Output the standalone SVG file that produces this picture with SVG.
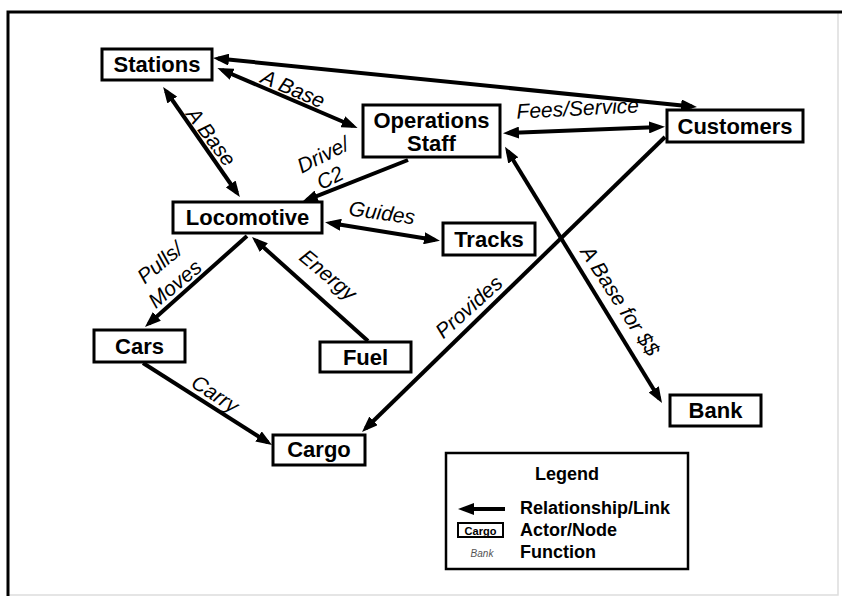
<svg xmlns="http://www.w3.org/2000/svg" width="842" height="596" viewBox="0 0 842 596">
<style>
.box{fill:#fff;stroke:#000;stroke-width:3}
.n{font-family:"Liberation Sans",Arial,sans-serif;font-weight:bold;font-size:22px;text-anchor:middle;fill:#000}
.e{font-family:"Liberation Sans",Arial,sans-serif;font-style:italic;font-size:21px;text-anchor:middle;fill:#000}
.lk{stroke:#000;stroke-width:4;fill:none}
.lg{font-family:"Liberation Sans",Arial,sans-serif;font-weight:bold;font-size:18px;fill:#000}
</style>
<defs>
<marker id="ah" viewBox="0 0 16 12" refX="11" refY="6" markerWidth="16" markerHeight="12" markerUnits="userSpaceOnUse" orient="auto-start-reverse"><path d="M0,0 L16,6 L0,12 z" fill="#000"/></marker>
</defs>
<rect width="842" height="596" fill="#fff"/>
<path d="M838,12 V595 H8" fill="none" stroke="#ddd" stroke-width="1.5"/>
<path d="M8,596 V12 H842" fill="none" stroke="#000" stroke-width="3"/>

<g id="connectors">
<line class="lk" x1="218" y1="58.5" x2="692" y2="106.5" marker-start="url(#ah)" marker-end="url(#ah)"/>
<line class="lk" x1="222" y1="70" x2="353" y2="126" marker-start="url(#ah)" marker-end="url(#ah)"/>
<line class="lk" x1="166" y1="91" x2="237" y2="193" marker-start="url(#ah)" marker-end="url(#ah)"/>
<line class="lk" x1="408" y1="160" x2="306.6" y2="200.2" marker-end="url(#ah)"/>
<line class="lk" x1="508" y1="133" x2="660" y2="127" marker-start="url(#ah)" marker-end="url(#ah)"/>
<line class="lk" x1="665" y1="137" x2="365.6" y2="428.5" marker-end="url(#ah)"/>
<line class="lk" x1="507.6" y1="151" x2="659.4" y2="398.7" marker-start="url(#ah)" marker-end="url(#ah)"/>
<line class="lk" x1="330" y1="223" x2="435" y2="240" marker-start="url(#ah)" marker-end="url(#ah)"/>
<line class="lk" x1="247" y1="236" x2="148.7" y2="323.7" marker-end="url(#ah)"/>
<line class="lk" x1="368" y1="341" x2="255.7" y2="240.3" marker-end="url(#ah)"/>
<line class="lk" x1="143" y1="363" x2="267.8" y2="442.3" marker-end="url(#ah)"/>
<text class="e" transform="translate(293,89) rotate(23)" y="7">A Base</text>
<text class="e" transform="translate(211,137) rotate(53)" y="7">A Base</text>
<text class="e" transform="translate(323,155) rotate(-27)" y="7">Drive/</text>
<text class="e" transform="translate(330,178) rotate(-27)" y="7">C2</text>
<text class="e" transform="translate(578,115.5) rotate(-3)">Fees/Service</text>
<text class="e" transform="translate(469,307) rotate(-42)" y="7">Provides</text>
<text class="e" transform="translate(620,301) rotate(57)" y="7">A Base for $$</text>
<text class="e" transform="translate(382,213) rotate(8)" y="7">Guides</text>
<text class="e" transform="translate(160,263) rotate(-40)" y="7">Pulls/</text>
<text class="e" transform="translate(175,284) rotate(-40)" y="7">Moves</text>
<text class="e" transform="translate(328,275) rotate(40)" y="7">Energy</text>
<text class="e" transform="translate(215,394) rotate(33)" y="7">Carry</text>
</g>

<g id="stations"><rect class="box" x="102" y="49" width="110" height="31"/><text class="n" x="157" y="72">Stations</text></g>
<g id="operations-staff"><rect class="box" x="363" y="105" width="137" height="52"/><text class="n" x="431.5" y="128">Operations</text><text class="n" x="431.5" y="151">Staff</text></g>
<g id="customers"><rect class="box" x="667" y="110" width="136" height="32"/><text class="n" x="735" y="134">Customers</text></g>
<g id="locomotive"><rect class="box" x="173" y="202" width="149" height="31"/><text class="n" x="247.5" y="225">Locomotive</text></g>
<g id="tracks"><rect class="box" x="443" y="223" width="92" height="32"/><text class="n" x="489" y="247">Tracks</text></g>
<g id="cars"><rect class="box" x="94" y="330" width="91" height="32"/><text class="n" x="139.5" y="354">Cars</text></g>
<g id="fuel"><rect class="box" x="320" y="342" width="91" height="30"/><text class="n" x="365.5" y="365">Fuel</text></g>
<g id="cargo"><rect class="box" x="273" y="435" width="92" height="30"/><text class="n" x="319" y="457">Cargo</text></g>
<g id="bank"><rect class="box" x="670" y="395" width="91" height="31"/><text class="n" x="715.5" y="418">Bank</text></g>

<g id="legend">
<rect x="446" y="453" width="242" height="116" fill="#fff" stroke="#000" stroke-width="2.5"/>
<text class="lg" x="567" y="480" text-anchor="middle" font-size="19">Legend</text>
<line class="lk" x1="505" y1="509" x2="463" y2="509" marker-end="url(#ah)"/>
<text class="lg" x="520" y="514">Relationship/Link</text>
<rect x="458" y="523" width="45" height="14" fill="#fff" stroke="#000" stroke-width="2"/>
<text x="480.5" y="534.5" text-anchor="middle" font-family="Liberation Sans, Arial, sans-serif" font-weight="bold" font-size="11">Cargo</text>
<text class="lg" x="520" y="536">Actor/Node</text>
<text x="482" y="557" text-anchor="middle" font-family="Liberation Sans, Arial, sans-serif" font-style="italic" font-size="10" fill="#555">Bank</text>
<text class="lg" x="520" y="558">Function</text>
</g>
</svg>
